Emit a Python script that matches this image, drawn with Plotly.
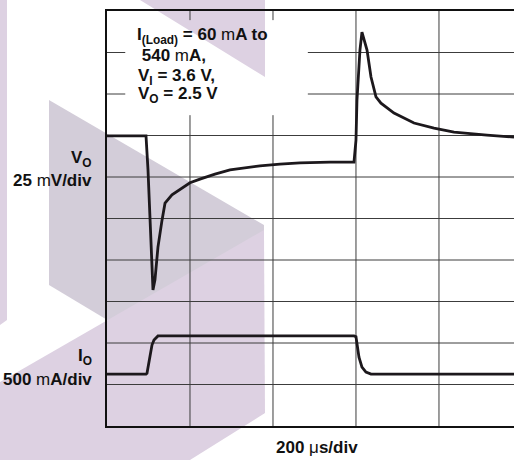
import plotly.graph_objects as go

# ---- data (in screen divisions) ----
# time axis: 200 us/div ; vertical: 10 divisions
vo_t = [0.00, 0.47, 0.494, 0.518, 0.542, 0.554, 0.578, 0.614, 0.663, 0.699, 0.783, 0.880,
        1.000, 1.120, 1.301, 1.482, 1.843, 2.084, 2.325, 2.687, 2.976, 3.000, 3.012, 3.048,
        3.072, 3.133, 3.181, 3.241, 3.301, 3.458, 3.699, 3.940, 4.181, 4.578, 4.904]
vo_div = [6.99, 6.99, 6.17, 4.96, 4.00, 3.28, 3.52, 4.31, 4.96, 5.37, 5.57, 5.69,
          5.86, 5.95, 6.07, 6.17, 6.27, 6.31, 6.34, 6.36, 6.36, 6.89, 7.86, 9.06,
          9.49, 9.06, 8.41, 7.93, 7.78, 7.54, 7.30, 7.18, 7.08, 7.01, 6.96]

io_t = [0.00, 0.47, 0.482, 0.518, 0.542, 0.566, 0.614, 0.76, 2.976, 3.000, 3.036, 3.072,
        3.120, 3.181, 4.904]
io_div = [1.25, 1.25, 1.27, 1.66, 1.95, 2.07, 2.17, 2.17, 2.17, 2.15, 1.66, 1.42,
          1.30, 1.25, 1.25]

x_grid = [1, 2, 3, 4]
y_grid = [1, 2, 3, 4, 5, 6, 7, 8, 9]
x_max = 4.904
y_max = 10

# ---- geometry helpers (pixels -> paper) ----
W, H = 514, 460
L, R, T, B = 107, 514, 11, 426


def px(x):
    return (x - L) / (R - L)


def py(y):
    return (B - y) / (B - T)


def poly(points):
    return "M " + " L ".join(f"{px(x):.4f},{py(y):.4f}" for x, y in points) + " Z"


LAV = "#ddd1e2"
GRY = "#d3cdd9"

fig = go.Figure()

fig.add_trace(go.Scatter(x=vo_t, y=vo_div, mode="lines",
                         line=dict(color="#1c181c", width=2.8), hoverinfo="skip"))
fig.add_trace(go.Scatter(x=io_t, y=io_div, mode="lines",
                         line=dict(color="#1c181c", width=2.8), hoverinfo="skip"))

shapes = []
# decorative background
for pts, col in [
    ([(0, 0), (7, 0), (7, 320), (0, 325)], LAV),
    ([(140, 0), (265, 0), (265, 77)], LAV),
    ([(49, 100), (264, 225), (264, 414), (49, 285)], GRY),
    ([(0, 382), (264, 230), (265, 413), (190, 460), (0, 460)], LAV),
]:
    shapes.append(dict(type="path", xref="paper", yref="paper", path=poly(pts),
                       fillcolor=col, line=dict(width=0), layer="below"))

# grid (hidden behind the caption box)
box_x0, box_x1 = 0.22, 2.42
box_y0, box_y1 = 7.49, 9.78
gcol = "#3c3c3c"
for gx in x_grid:
    if box_x0 < gx < box_x1:
        segs = [(0, box_y0), (box_y1, y_max)]
    else:
        segs = [(0, y_max)]
    for a, b in segs:
        shapes.append(dict(type="line", xref="x", yref="y", x0=gx, x1=gx, y0=a, y1=b,
                           line=dict(color=gcol, width=1), layer="below"))
for gy in y_grid:
    if box_y0 < gy < box_y1:
        segs = [(0, box_x0), (box_x1, x_max)]
    else:
        segs = [(0, x_max)]
    for a, b in segs:
        shapes.append(dict(type="line", xref="x", yref="y", x0=a, x1=b, y0=gy, y1=gy,
                           line=dict(color=gcol, width=1), layer="below"))

FONT = "Liberation Sans, Arial, Helvetica, sans-serif"


def label(text, x, ytop, size, anchor="left"):
    return dict(text=text, xref="paper", yref="paper", x=px(x), y=py(ytop - 0.19 * size - 2),
                xanchor=anchor, yanchor="top", showarrow=False,
                font=dict(family=FONT, size=size, color="#111111"))


ann = [
    label("<b>I<sub>(Load)</sub> = 60 </b>m<b>A to</b>", 135, 28, 17),
    label("<b> 540 </b>m<b>A,</b>", 135, 49, 17),
    label("<b>V<sub>I</sub> = 3.6 V,</b>", 136, 69, 17),
    label("<b>V<sub>O</sub> = 2.5 V</b>", 136, 87, 17),
    label("<b>V<sub>O</sub></b>", 94, 151, 17, "right"),
    label("<b>25 </b>m<b>V/div</b>", 94, 174, 17, "right"),
    label("<b>I<sub>O</sub></b>", 94, 349, 17, "right"),
    label("<b>500 </b>m<b>A/div</b>", 94, 373, 17, "right"),
    label("<b>200 </b>\u03bc<b>s/div</b>", 317, 441, 17, "center"),
]

fig.update_layout(
    width=W, height=H,
    margin=dict(l=L, r=W - R, t=T, b=H - B, pad=0),
    paper_bgcolor="white",
    plot_bgcolor="rgba(0,0,0,0)",
    showlegend=False,
    shapes=shapes,
    annotations=ann,
    xaxis=dict(range=[0, x_max], showgrid=False, zeroline=False, showticklabels=False,
               ticks="", showline=True, linecolor="#111111", linewidth=2, mirror=True,
               fixedrange=True),
    yaxis=dict(range=[0, y_max], showgrid=False, zeroline=False, showticklabels=False,
               ticks="", showline=True, linecolor="#111111", linewidth=2, mirror=False,
               fixedrange=True),
)

fig.write_html("out.html", config=dict(displayModeBar=False),
               post_script="document.body.style.margin='0';document.body.style.overflow='hidden';")
